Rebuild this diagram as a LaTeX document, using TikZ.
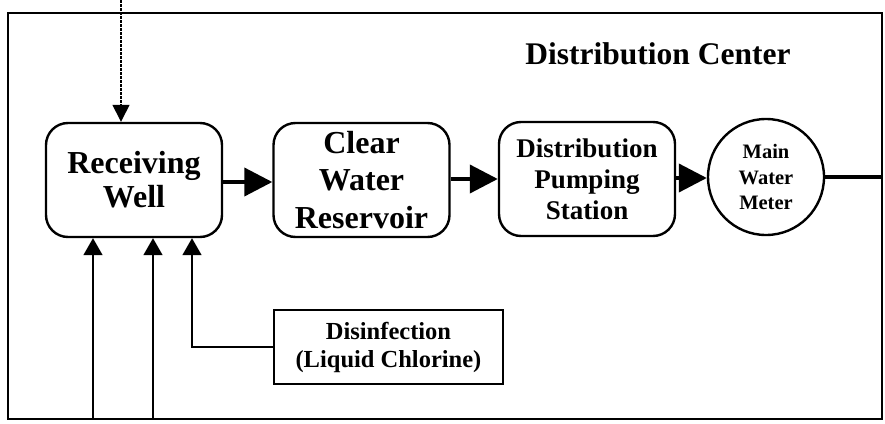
\documentclass[tikz,border=0pt]{standalone}
\usepackage{fontspec}
\setmainfont{Liberation Serif}
\usetikzlibrary{arrows.meta}
\tikzset{
  proc/.style={draw, line width=2.4pt, rounded corners=22pt, minimum width=176pt, minimum height=114pt, inner sep=0pt, align=center, font=\bfseries},
  meterc/.style={draw, circle, line width=2.4pt, minimum size=116pt, inner sep=0pt, align=center, font=\bfseries\fontsize{20.5}{25.5}\selectfont},
  chem/.style={draw, line width=1.6pt, minimum width=229pt, minimum height=74pt, inner sep=0pt, align=center, font=\bfseries\fontsize{24.5}{28}\selectfont},
  bigflow/.style={line width=4pt, -{Triangle[length=28pt,width=28pt]}},
  feed/.style={line width=1.6pt, -{Triangle[length=17pt,width=19pt]}},
  frame/.style={line width=1.6pt},
}
\begin{document}
\begin{tikzpicture}[x=1pt,y=-1pt]
\useasboundingbox (0,0) rectangle (885,423);
\draw[frame] (8,13) rectangle (882,419);
\node[font=\bfseries\fontsize{31.5}{36}\selectfont] (title) at (658,54) {Distribution Center};
\node[proc, font=\bfseries\fontsize{32}{34}\selectfont] (rw) at (134,180) {Receiving\\Well};
\node[proc, font=\bfseries\fontsize{32}{37.5}\selectfont] (cwr) at (361.5,180) {Clear\\Water\\Reservoir};
\node[proc, font=\bfseries\fontsize{27}{31}\selectfont] (dps) at (587,179) {Distribution\\Pumping\\Station};
\node[meterc] (mwm) at (766,177) {Main\\Water\\Meter};
\node[chem] (dis) at (388.5,347) {Disinfection\\(Liquid Chlorine)};
\coordinate (src) at (121,0);
\coordinate (in1) at (93,419);
\coordinate (in2) at (153,419);
\coordinate (out) at (882,177);
\draw[bigflow] (rw.east |- 0,182) -- (cwr.west |- 0,182);
\draw[bigflow] (cwr.east |- 0,179) -- (dps.west |- 0,179);
\draw[bigflow] (dps.east |- 0,178) -- (mwm.west |- 0,178);
\draw[line width=4pt] (mwm.east) -- (out);
\draw[line width=1.4pt, dash pattern=on 2.5pt off 1.5pt, -{Triangle[length=17pt,width=17pt]}] (src) -- (src |- rw.north);
\draw[feed] (in1) -- (in1 |- rw.south);
\draw[feed] (in2) -- (in2 |- rw.south);
\draw[feed] (dis.west) -| (192,0 |- rw.south);
\end{tikzpicture}
\end{document}
